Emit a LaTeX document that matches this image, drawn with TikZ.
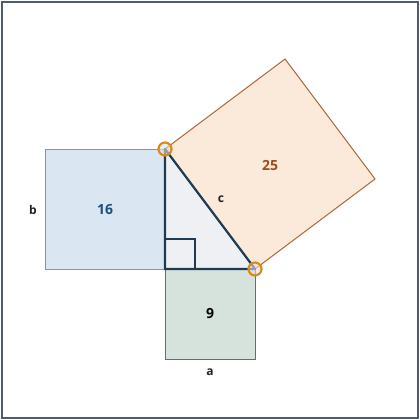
\documentclass[tikz,border=0pt]{standalone}
\usepackage{fontspec}
\setmainfont{Open Sans}
\definecolor{frameC}{HTML}{4A5E70}
\definecolor{blueF}{HTML}{DAE6F1}
\definecolor{blueS}{HTML}{6B9BD0}
\definecolor{greenF}{HTML}{D5E3DC}
\definecolor{greenS}{HTML}{4F7A6A}
\definecolor{orangeF}{HTML}{FBE9D9}
\definecolor{orangeS}{HTML}{B0683A}
\definecolor{triF}{HTML}{EEF0F3}
\definecolor{triS}{HTML}{1F3A52}
\definecolor{ringC}{HTML}{D98A1F}
\definecolor{blueT}{HTML}{1D4E7E}
\definecolor{brownT}{HTML}{99501C}
\definecolor{darkT}{HTML}{222222}
\tikzset{
  sq/.style={line width=1pt},
  lbl/.style={font=\bfseries\fontsize{12}{14}\selectfont, text=darkT, inner sep=0pt},
  num/.style={font=\bfseries\fontsize{14}{16}\selectfont, inner sep=0pt},
  ring/.style={draw=ringC, line width=2.2pt, fill=gray!25, fill opacity=0.6, circle, minimum size=13pt, inner sep=0pt}
}
\begin{document}
\begin{tikzpicture}[x=1pt,y=-1pt]
\useasboundingbox (0,0) rectangle (420,420);
\draw[frameC, line width=1.5pt] (2,2) rectangle (418,418);
\coordinate (A) at (165,149);
\coordinate (B) at (255,269);
\coordinate (C) at (165,269);
\coordinate (D) at (285,59);
\coordinate (E) at (375,179);
% squares
\draw[sq, fill=blueF, draw=blueS] (45,149) rectangle (C);
\draw[sq, fill=greenF, draw=greenS] (C) rectangle (255,359);
\draw[sq, fill=orangeF, draw=orangeS] (A) -- (D) -- (E) -- (B) -- cycle;
% triangle
\fill[triF] (A) -- (B) -- (C) -- cycle;
\draw[triS, line width=1.3pt] (165,239) rectangle (195,269);
\draw[triS, line width=2.2pt, line join=round] (A) -- (B) -- (C) -- cycle;
% rings
\node[ring] (rA) at (A) {};
\node[ring] (rB) at (B) {};
% labels
\node[num, text=blueT] (n16) at (105,210) {16};
\node[num, text=brownT] (n25) at (270,165) {25};
\node[num, text=black] (n9) at (210,314) {9};
\node[lbl] (lb) at (33,210) {b};
\node[lbl] (la) at (210,372) {a};
\node[lbl] (lc) at (221,199) {c};
\end{tikzpicture}
\end{document}
